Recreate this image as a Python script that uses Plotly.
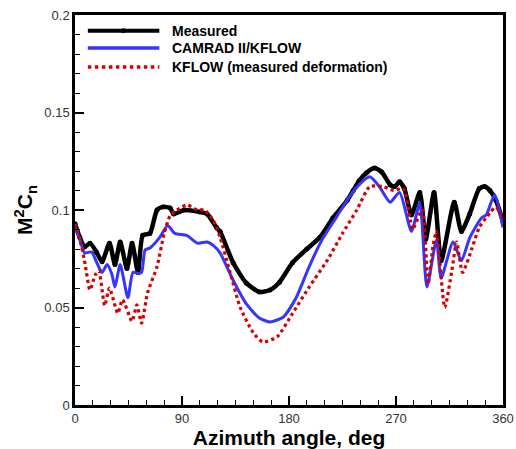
import plotly.graph_objects as go

meas_x = [0, 4, 8, 12.6, 18, 22.7, 29, 33.6, 38, 43.7, 48, 53, 57, 63, 69, 74, 80, 83, 92, 105, 111, 119, 122,
          133, 144, 155, 164, 172, 183, 195, 206, 217, 229, 234, 239, 245, 252, 258, 265, 269, 273, 277,
          283, 290, 295, 302, 308, 319, 325, 332, 340, 344.5, 349, 354, 360]
meas_y = [0.093, 0.086, 0.081, 0.083, 0.0785, 0.0735, 0.083, 0.072, 0.0836, 0.070, 0.083, 0.068, 0.087, 0.088,
          0.100, 0.1016, 0.101, 0.098, 0.100, 0.099, 0.098, 0.091, 0.089,
          0.073, 0.0626, 0.058, 0.059, 0.063, 0.073, 0.080, 0.086, 0.096, 0.105, 0.110, 0.115, 0.119, 0.1215,
          0.1195, 0.113, 0.112, 0.1145, 0.111, 0.0975, 0.109, 0.085, 0.109, 0.074, 0.104, 0.089, 0.098,
          0.111, 0.112, 0.110, 0.105, 0.094]

cam_x = [0, 4, 8, 14, 18, 22.7, 27, 31, 33.6, 38, 44.5, 48.7, 53, 56, 59, 63, 71, 78, 84, 94, 103, 111,
         116, 122, 133, 144, 155, 164, 175, 186, 197, 208, 220, 231, 239, 248, 256, 265, 273, 283, 290,
         296, 304, 308, 318, 325, 332, 342, 346, 353, 360]
cam_y = [0.091, 0.085, 0.078, 0.0785, 0.0735, 0.068, 0.072, 0.067, 0.0605, 0.072, 0.055, 0.068, 0.0675,
         0.068, 0.0795, 0.0805, 0.0857, 0.092, 0.088, 0.087, 0.083, 0.0836,
         0.082, 0.078, 0.064, 0.052, 0.0446, 0.0426, 0.045, 0.055, 0.071, 0.085, 0.0965, 0.107, 0.113, 0.117,
         0.112, 0.104, 0.109, 0.089, 0.1036, 0.0605, 0.0846, 0.065, 0.0836, 0.074, 0.0857, 0.096, 0.0975,
         0.108, 0.091]

kf_x = [0, 4, 8, 12.6, 17, 20, 25, 29, 36, 40, 48, 52, 56, 61, 69, 75, 80, 86, 94, 103, 109, 116, 122,
        130, 139, 150, 158, 170, 183, 197, 212, 225, 237, 248, 259, 268, 276, 282, 284, 292, 297,
        301, 304, 311, 317, 321, 326, 334, 340, 349, 354, 360]
kf_y = [0.093, 0.085, 0.074, 0.059, 0.0667, 0.069, 0.051, 0.060, 0.047, 0.054, 0.043, 0.0513, 0.042, 0.0575,
        0.071, 0.088, 0.097, 0.100, 0.1026, 0.100, 0.100, 0.095, 0.086,
        0.069, 0.050, 0.037, 0.0323, 0.035, 0.047, 0.0605, 0.074, 0.088, 0.100, 0.112, 0.112, 0.110, 0.111,
        0.095, 0.090, 0.100, 0.062, 0.081, 0.089, 0.050, 0.069, 0.0836, 0.068, 0.0805, 0.091,
        0.0985, 0.1016, 0.095]

names = ["Measured", "CAMRAD II/KFLOW", "KFLOW (measured deformation)"]
colors = ["black", "#3535ff", "#d40000"]

fig = go.Figure()
fig.add_trace(go.Scatter(x=meas_x, y=meas_y, name=names[0], mode="lines+markers",
                         line=dict(color=colors[0], width=4.5, shape="spline", smoothing=0.6),
                         marker=dict(color=colors[0], size=5)))
fig.add_trace(go.Scatter(x=cam_x, y=cam_y, name=names[1], mode="lines",
                         line=dict(color=colors[1], width=3, shape="spline", smoothing=0.6)))
fig.add_trace(go.Scatter(x=kf_x, y=kf_y, name=names[2], mode="lines",
                         line=dict(color=colors[2], width=3.2, dash="dot", shape="spline", smoothing=0.6)))

# manual legend (plot area: 428 x 390 px)
leg_rows = [0.9595, 0.9155, 0.8665]
dashes = ["solid", "solid", "dot"]
widths = [4, 3.5, 3.5]
for i in range(3):
    fig.add_shape(type="line", xref="paper", yref="paper", x0=0.030, x1=0.197,
                  y0=leg_rows[i], y1=leg_rows[i],
                  line=dict(color=colors[i], width=widths[i], dash=dashes[i]))
    fig.add_annotation(xref="paper", yref="paper", x=0.222, y=leg_rows[i], xanchor="left", yanchor="middle",
                       text="<b>" + names[i] + "</b>", showarrow=False,
                       font=dict(size=14, color="black", family="Liberation Sans, Arial"))
fig.add_shape(type="circle", xref="paper", yref="paper", x0=0.113 - 0.0058, x1=0.113 + 0.0058,
              y0=leg_rows[0] - 0.0064, y1=leg_rows[0] + 0.0064,
              fillcolor="black", line=dict(color="black", width=0))

fig.update_layout(
    width=516, height=449,
    margin=dict(l=75, r=13, t=15, b=44),
    paper_bgcolor="white", plot_bgcolor="white",
    font=dict(family="Liberation Sans, Arial", color="#222"),
    showlegend=False,
)
fig.update_xaxes(range=[0, 360], tickvals=[0, 90, 180, 270, 360], ticks="inside", ticklen=9, tickwidth=2,
                 tickcolor="black", showline=True, linewidth=2.5, linecolor="black", mirror=True,
                 showgrid=False, zeroline=False, tickfont=dict(size=13, color="#333"), automargin=False,
                 minor=dict(dtick=15, ticks="inside", ticklen=5, tickwidth=1, tickcolor="black"),
                 title=dict(text="<b>Azimuth angle, deg</b>", font=dict(size=21, color="black"), standoff=2))
fig.update_yaxes(range=[0, 0.2], tickvals=[0, 0.05, 0.1, 0.15, 0.2], ticktext=["0", "0.05", "0.1", "0.15", "0.2"],
                 ticks="inside", ticklen=9, tickwidth=2, tickcolor="black", showline=True, linewidth=2.5,
                 linecolor="black", mirror=True, showgrid=False, zeroline=False, automargin=False,
                 tickfont=dict(size=13, color="#333"),
                 minor=dict(dtick=0.01, ticks="inside", ticklen=5, tickwidth=1, tickcolor="black"),
                 title=dict(text="<b>M<sup>2</sup>C<sub>n</sub></b>", font=dict(size=21, color="black"), standoff=6))

fig.write_html("out.html")
